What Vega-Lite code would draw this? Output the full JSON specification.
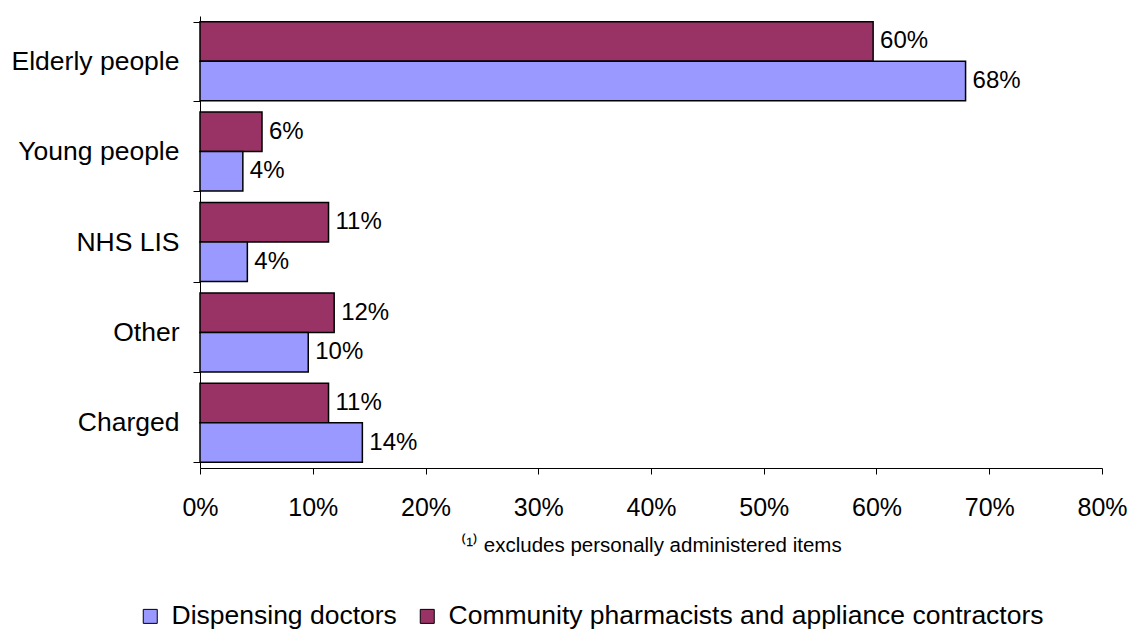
{
  "$schema": "https://vega.github.io/schema/vega-lite/v6.json",
  "autosize": {"type": "none"},
  "width": 902,
  "height": 452,
  "padding": {"left": 200, "top": 16, "right": 29, "bottom": 164},
  "background": "white",
  "config": {
    "font": "Liberation Sans",
    "view": {"stroke": null}
  },
  "data": {
    "values": [
      {"category": "Elderly people", "series": "Community pharmacists and appliance contractors", "value": 0.597},
      {"category": "Elderly people", "series": "Dispensing doctors", "value": 0.679},
      {"category": "Young people", "series": "Community pharmacists and appliance contractors", "value": 0.055},
      {"category": "Young people", "series": "Dispensing doctors", "value": 0.038},
      {"category": "NHS LIS", "series": "Community pharmacists and appliance contractors", "value": 0.114},
      {"category": "NHS LIS", "series": "Dispensing doctors", "value": 0.042},
      {"category": "Other", "series": "Community pharmacists and appliance contractors", "value": 0.119},
      {"category": "Other", "series": "Dispensing doctors", "value": 0.096},
      {"category": "Charged", "series": "Community pharmacists and appliance contractors", "value": 0.114},
      {"category": "Charged", "series": "Dispensing doctors", "value": 0.144}
    ]
  },
  "encoding": {
    "y": {
      "field": "category",
      "type": "nominal",
      "sort": ["Elderly people", "Young people", "NHS LIS", "Other", "Charged"],
      "scale": {"paddingInner": 0.126, "paddingOuter": 0.063},
      "axis": {
        "title": null,
        "domainColor": "black",
        "domainWidth": 1,
        "tickColor": "black",
        "tickSize": 7,
        "tickBand": "extent",
        "labelFontSize": 26.5,
        "labelColor": "black",
        "labelPadding": 14,
        "labelLimit": 300
      }
    },
    "yOffset": {
      "field": "series",
      "type": "nominal",
      "sort": ["Community pharmacists and appliance contractors", "Dispensing doctors"]
    },
    "x": {
      "field": "value",
      "type": "quantitative",
      "scale": {"domain": [0, 0.8], "nice": false},
      "axis": {
        "values": [0, 0.1, 0.2, 0.3, 0.4, 0.5, 0.6, 0.7, 0.8],
        "format": ".0%",
        "grid": false,
        "domainColor": "black",
        "tickColor": "black",
        "tickSize": 6,
        "labelFontSize": 25,
        "labelColor": "black",
        "labelPadding": 21,
        "labelFlush": false,
        "title": "⁽¹⁾ excludes personally administered items",
        "titleFontSize": 20.5,
        "titleFontWeight": "normal",
        "titleColor": "black",
        "titlePadding": 15
      }
    }
  },
  "layer": [
    {
      "mark": {"type": "bar", "stroke": "black", "strokeWidth": 1.5},
      "encoding": {
        "color": {
          "field": "series",
          "type": "nominal",
          "scale": {
            "domain": ["Dispensing doctors", "Community pharmacists and appliance contractors"],
            "range": ["#9999FF", "#993366"]
          },
          "legend": {
            "title": null,
            "orient": "none",
            "direction": "horizontal",
            "legendX": -63,
            "legendY": 587,
            "symbolType": "square",
            "symbolSize": 196,
            "symbolStrokeColor": "black",
            "symbolStrokeWidth": 1,
            "symbolOpacity": 1,
            "labelFontSize": 26.5,
            "labelColor": "black",
            "labelLimit": 800,
            "columnPadding": 17,
            "labelOffset": 8
          }
        }
      }
    },
    {
      "mark": {"type": "text", "align": "left", "baseline": "middle", "dx": 7, "fontSize": 24, "color": "black"},
      "encoding": {
        "text": {"field": "value", "type": "quantitative", "format": ".0%"}
      }
    }
  ]
}
